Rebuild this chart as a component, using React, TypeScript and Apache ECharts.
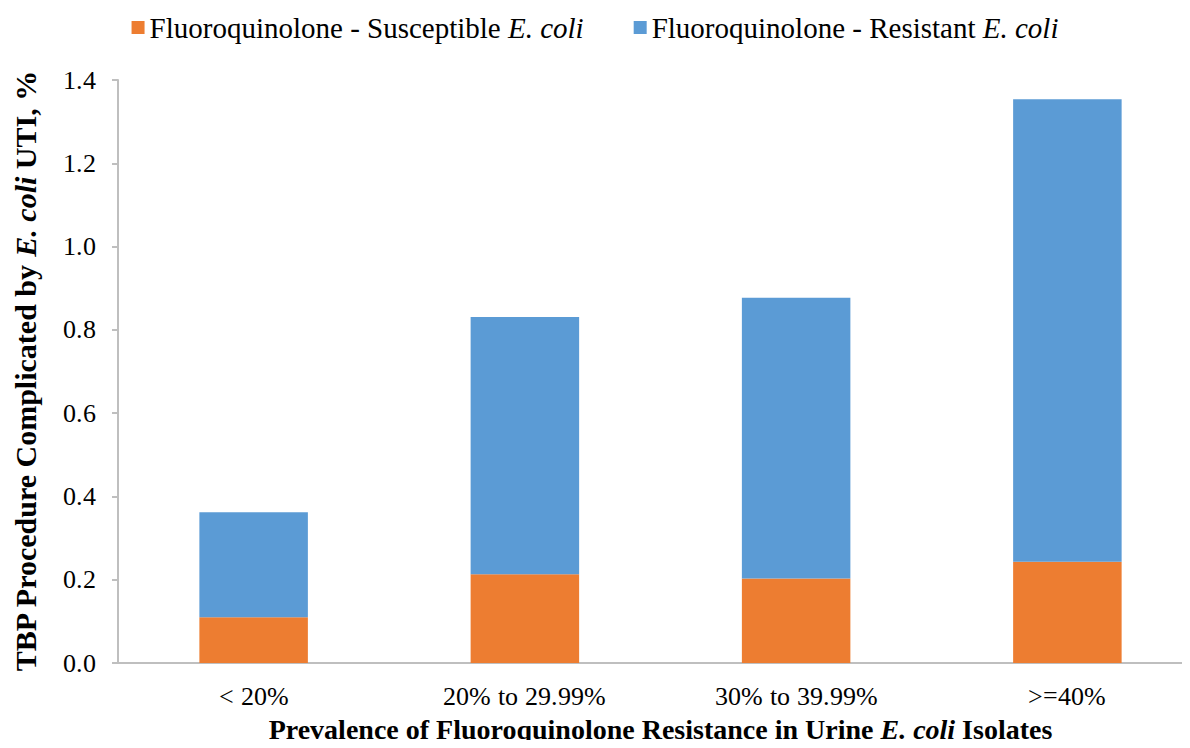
import React, { useEffect, useRef } from "react";
import * as echarts from "echarts";

const categories = ["< 20%", "20% to 29.99%", "30% to 39.99%", ">=40%"];
const susceptibleValues = [0.11, 0.213, 0.203, 0.243];
const resistantValues = [0.252, 0.618, 0.674, 1.111];
const seriesNames = ["Fluoroquinolone - Susceptible E. coli", "Fluoroquinolone - Resistant E. coli"];

const FONT = "Liberation Serif";
const LABEL_FONT = "RefSerif, Liberation Serif, serif";

const fontCss = `@font-face { font-family: "RefSerif"; src: local("Liberation Serif"), local("LiberationSerif"), local("Liberation Serif Regular"); font-weight: 400; font-style: normal; }`;

export default function App() {
  const ref = useRef<HTMLDivElement>(null);
  useEffect(() => {
    if (!ref.current) return;
    const chart = echarts.init(ref.current, undefined, { renderer: "svg" });
    chart.setOption({
      animation: false,
      textStyle: { fontFamily: FONT, color: "#000" },
      legend: {
        top: 8,
        left: "center",
        itemWidth: 13,
        itemHeight: 13,
        itemGap: 50,
        icon: "rect",
        formatter: (name: string) => {
          const base = name.replace(" E. coli", " ");
          return `{n|${base}}{i|E. coli}`;
        },
        textStyle: {
          fontFamily: FONT,
          fontSize: 29,
          fontWeight: 400,
          color: "#000",
          rich: {
            n: { fontFamily: FONT, fontSize: 29, fontWeight: 400, fontStyle: "normal", color: "#000" },
            i: { fontFamily: FONT, fontSize: 29, fontStyle: "italic", color: "#000" },
          },
        },
        data: seriesNames,
      },
      grid: { left: 118, right: -13, top: 80, bottom: 85, outerBoundsMode: "none", containLabel: false },
      xAxis: {
        type: "category",
        data: categories,
        axisLine: { lineStyle: { color: "#BFBFBF", width: 2 } },
        axisTick: { show: false },
        axisLabel: {
          fontFamily: LABEL_FONT,
          fontStyle: "normal",
          fontWeight: 400,
          fontSize: 26,
          color: "#000",
          margin: 20,
        },
        name: "Prevalence of Fluoroquinolone Resistance in Urine {bi|E. coli} Isolates",
        nameLocation: "middle",
        nameGap: 52,
        nameTextStyle: {
          fontFamily: FONT,
          fontSize: 28,
          fontWeight: "bold",
          color: "#000",
          rich: {
            bi: { fontFamily: FONT, fontSize: 28, fontWeight: "bold", fontStyle: "italic", color: "#000" },
          },
        },
      },
      yAxis: {
        type: "value",
        min: 0,
        max: 1.4,
        interval: 0.2,
        splitLine: { show: false },
        axisLine: { show: true, lineStyle: { color: "#BFBFBF", width: 2 } },
        axisTick: { show: true, length: 6, lineStyle: { color: "#BFBFBF", width: 2 } },
        axisLabel: {
          fontFamily: LABEL_FONT,
          fontWeight: 400,
          fontStyle: "normal",
          fontSize: 26,
          color: "#000",
          margin: 22,
          formatter: (v: number) => v.toFixed(1),
        },
        name: "TBP Procedure Complicated by {bi|E. coli} UTI, %",
        nameLocation: "middle",
        nameGap: 78,
        nameRotate: 90,
        nameTextStyle: {
          fontFamily: FONT,
          fontSize: 30,
          fontWeight: "bold",
          color: "#000",
          rich: {
            bi: { fontFamily: FONT, fontSize: 30, fontWeight: "bold", fontStyle: "italic", color: "#000" },
          },
        },
      },
      series: [
        {
          name: seriesNames[0],
          type: "bar",
          stack: "total",
          barWidth: "40%",
          data: susceptibleValues,
          itemStyle: { color: "#ED7D31" },
        },
        {
          name: seriesNames[1],
          type: "bar",
          stack: "total",
          barWidth: "40%",
          data: resistantValues,
          itemStyle: { color: "#5B9BD5" },
        },
      ],
    });
    return () => chart.dispose();
  }, []);
  return (
    <>
      <style>{fontCss}</style>
      <div ref={ref} style={{ width: 1190, height: 748, margin: -8 }} />
    </>
  );
}
